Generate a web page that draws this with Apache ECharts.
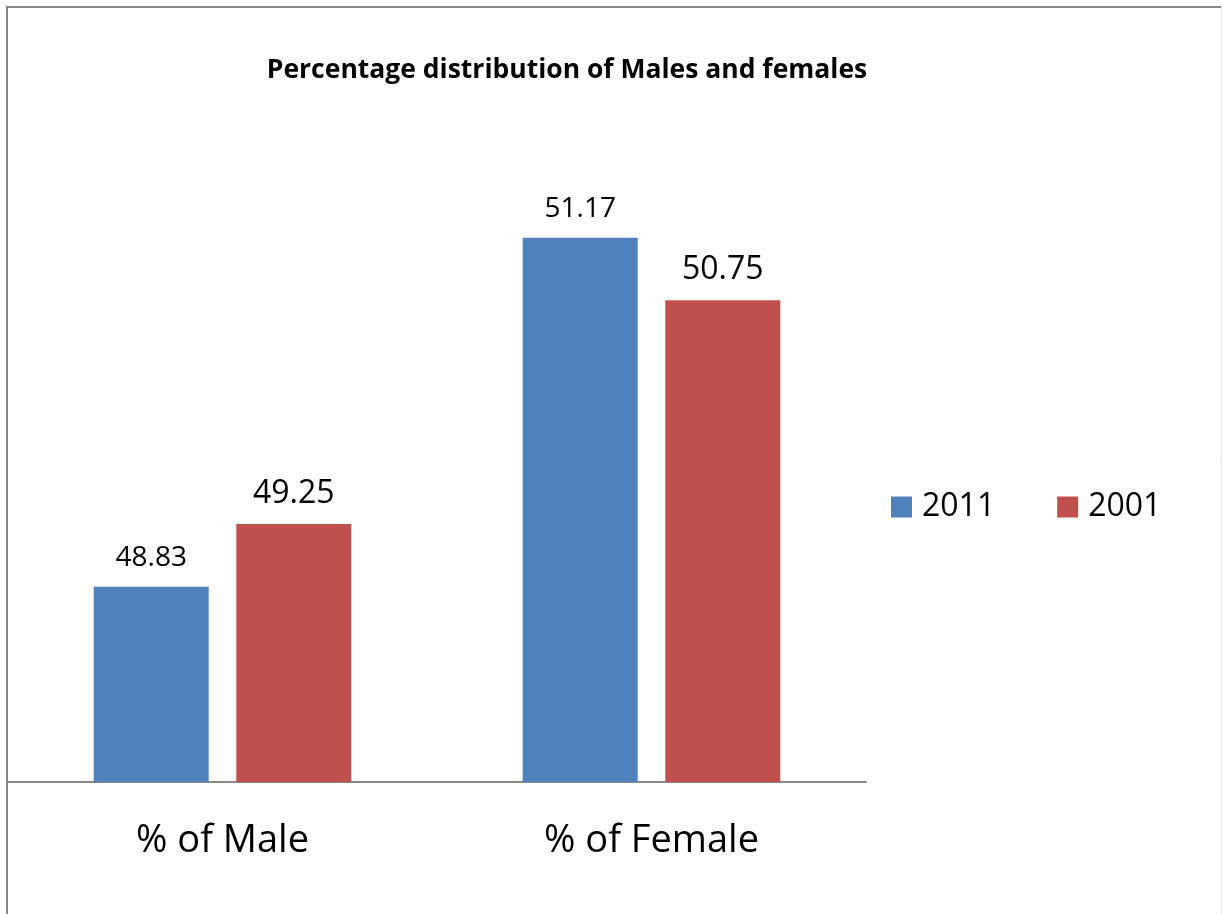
<!DOCTYPE html>
<html>
<head>
<meta charset="utf-8">
<script src="https://cdn.jsdelivr.net/npm/echarts@6/dist/echarts.min.js"></script>
<style>
  html, body { margin: 0; padding: 0; background: #fff; }
  #chart { width: 1222px; height: 914px; }
</style>
</head>
<body>
<div id="chart"></div>
<script>
const categories = ["% of Male", "% of Female"];
const seriesNames = ["2011", "2001"];
const values2011 = [48.83, 51.17];
const values2001 = [49.25, 50.75];

const chart = echarts.init(document.getElementById("chart"));
const font = "'Open Sans', 'Liberation Sans', sans-serif";

chart.setOption({
  backgroundColor: "#fff",
  animation: false,
  textStyle: { fontFamily: font, color: "#000" },
  title: {
    text: "Percentage distribution of Males and females",
    left: 562,
    top: 52,
    textAlign: "center",
    textStyle: { fontFamily: font, fontSize: 26.5, fontWeight: "bold", color: "#000" },
  },
  legend: {
    data: seriesNames,
    left: 886,
    top: 486,
    orient: "horizontal",
    itemWidth: 21,
    itemHeight: 21,
    itemGap: 62,
    icon: "rect",
    textStyle: { fontFamily: font, fontSize: 32, color: "#000", padding: [0, 0, 0, 5] },
  },
  grid: { left: 8, right: 356, top: 111, bottom: 132, containLabel: false },
  xAxis: {
    type: "category",
    data: categories,
    axisLine: { lineStyle: { color: "#898989", width: 2 } },
    axisTick: { show: false },
    axisLabel: { fontFamily: font, fontSize: 38, color: "#000", margin: 40 },
  },
  yAxis: {
    type: "value",
    min: 47.52,
    max: 52.02,
    show: false,
  },
  series: [
    {
      name: seriesNames[0],
      type: "bar",
      data: values2011,
      barWidth: 115,
      barGap: "24%",
      itemStyle: { color: "#4F81BD" },
      label: { show: true, position: "top", distance: 15, fontFamily: font, fontSize: 28, color: "#000" },
    },
    {
      name: seriesNames[1],
      type: "bar",
      data: values2001,
      barWidth: 115,
      itemStyle: { color: "#C0504D" },
      label: { show: true, position: "top", distance: 14, fontFamily: font, fontSize: 32, color: "#000" },
    },
  ],
  graphic: [
    { type: "line", shape: { x1: 6, y1: 7, x2: 1221, y2: 7 }, style: { stroke: "#888", lineWidth: 2 } },
    { type: "line", shape: { x1: 7, y1: 6, x2: 7, y2: 914 }, style: { stroke: "#888", lineWidth: 2 } },
    { type: "line", shape: { x1: 1221.5, y1: 7, x2: 1221.5, y2: 914 }, style: { stroke: "#e4e4e4", lineWidth: 1 } },
  ],
});
</script>
</body>
</html>
